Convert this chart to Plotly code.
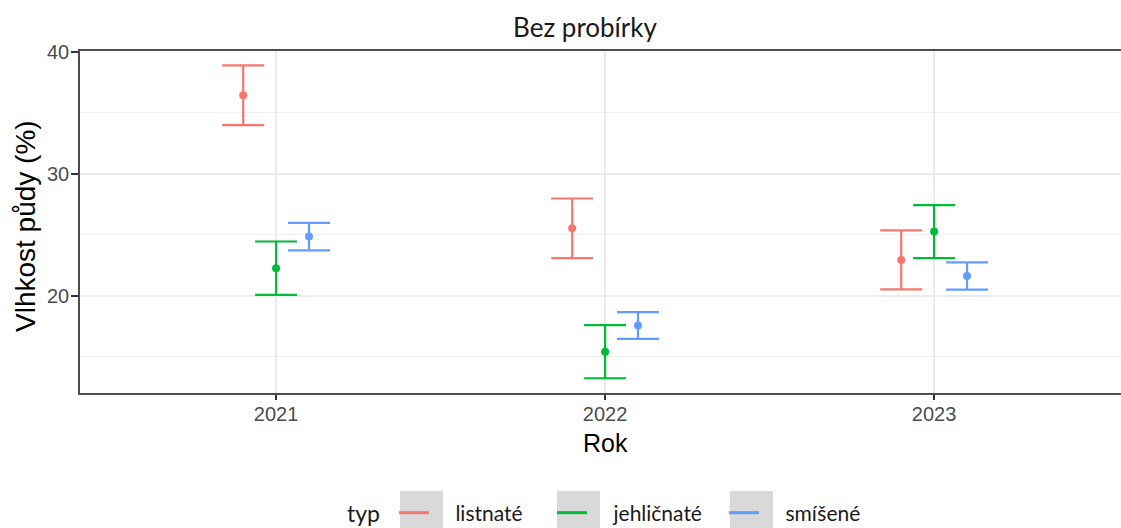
import numpy as np
import plotly.graph_objects as go

# ---- data ----
years = [2021, 2022, 2023]
series_names = ["listnaté", "jehličnaté", "smíšené"]
colors = ["#F8766D", "#00BA38", "#619CFF"]
dodge = [-0.1, 0.0, 0.1]

mean_listnate = [36.45, 25.52, 22.93]
err_listnate = [2.45, 2.45, 2.43]
mean_jehlicnate = [22.25, 15.39, 25.25]
err_jehlicnate = [2.19, 2.18, 2.18]
mean_smisene = [24.84, 17.54, 21.61]
err_smisene = [1.13, 1.10, 1.12]

means = [mean_listnate, mean_jehlicnate, mean_smisene]
errs = [err_listnate, err_jehlicnate, err_smisene]

W, H = 1121, 528
L, R, T, B = 80, 0, 51, 135
pw, ph = W - L - R, H - T - B

def px_x(p):
    return (p - L) / pw

def px_y(p):
    return (H - B - p) / ph

fig = go.Figure()

for name, col, dx, m, e in zip(series_names, colors, dodge, means, errs):
    fig.add_trace(go.Scatter(
        x=np.array(years) + dx, y=m, mode="markers",
        marker=dict(color=col, size=8),
        error_y=dict(type="data", array=e, visible=True, color=col,
                     thickness=2.2, width=21),
        showlegend=False, hoverinfo="skip"))

legend_ids = ["legend", "legend2", "legend3"]
for name, col, lid in zip(series_names, colors, legend_ids):
    fig.add_trace(go.Scatter(
        x=[None], y=[None], mode="lines", line=dict(color=col, width=3),
        name="\u00a0\u00a0\u00a0\u00a0" + name, showlegend=True, legend=lid))

grid = "#EBEBEB"
axis_line = "#4D4D4D"
leg_font = dict(family="Lato", size=21, color="#1A1A1A")
leg_y = 1 - 513 / H

def leg(xpx, **kw):
    return dict(orientation="h", x=xpx / W, xanchor="left", xref="container",
                y=leg_y, yanchor="middle", yref="container",
                bgcolor="rgba(0,0,0,0)", font=leg_font, **kw)

fig.update_layout(
    width=W, height=H,
    margin=dict(l=L, r=R, t=T, b=B, pad=0, autoexpand=False),
    paper_bgcolor="white", plot_bgcolor="white",
    font=dict(family="Liberation Sans", size=20, color="#4D4D4D"),
    title=dict(text="Bez probírky", x=585 / W, xanchor="center",
               xref="container", y=1 - 28 / H, yanchor="middle",
               yref="container",
               font=dict(family="Lato", size=26, color="#1A1A1A")),
    showlegend=True,
    legend=leg(345, title=dict(text="typ ", side="left",
                               font=dict(family="Lato", size=23, color="#1A1A1A"))),
    legend2=leg(552),
    legend3=leg(724),
    xaxis=dict(range=[2020.404, 2023.568], tickvals=years,
               ticktext=[str(y) for y in years],
               showgrid=True, gridcolor=grid, gridwidth=1.5,
               showline=True, linecolor=axis_line, linewidth=1.5, mirror=True,
               ticks="outside", ticklen=5, tickcolor="#333333", tickwidth=1.5,
               tickfont=dict(family="Liberation Sans", size=20, color="#4D4D4D"),
               ticklabelstandoff=-3, automargin=False,
               zeroline=False),
    yaxis=dict(range=[12.0, 40.08], tickvals=[20, 30, 40],
               showgrid=True, gridcolor=grid, gridwidth=1.5,
               minor=dict(tickvals=[15, 25, 35], showgrid=True,
                          gridcolor="#F0F0F0", gridwidth=1),
               showline=True, linecolor=axis_line, linewidth=1.5,
               ticks="outside", ticklen=7, tickcolor="#333333", tickwidth=1.5,
               tickfont=dict(family="Liberation Sans", size=20, color="#4D4D4D"),
               ticklabelstandoff=-2, automargin=False,
               zeroline=False),
)

# axis titles
fig.add_annotation(text="Rok", x=2022, xref="x", y=px_y(443), yref="paper",
                   showarrow=False, yanchor="middle", xanchor="center",
                   font=dict(family="Liberation Sans", size=25, color="#000000"))
fig.add_annotation(text="Vlhkost půdy (%)", x=px_x(25), xref="paper",
                   y=px_y(226), yref="paper", textangle=-90,
                   showarrow=False, xanchor="center", yanchor="middle",
                   font=dict(family="Liberation Sans", size=28, color="#000000"))

# grey legend key backgrounds
for x0 in [400, 557, 730]:
    fig.add_shape(type="rect", xref="paper", yref="paper",
                  x0=px_x(x0), x1=px_x(x0 + 43), y0=px_y(491), y1=px_y(532),
                  fillcolor="#D9D9D9", line=dict(width=0), layer="below")

fig.write_html("out.html")
